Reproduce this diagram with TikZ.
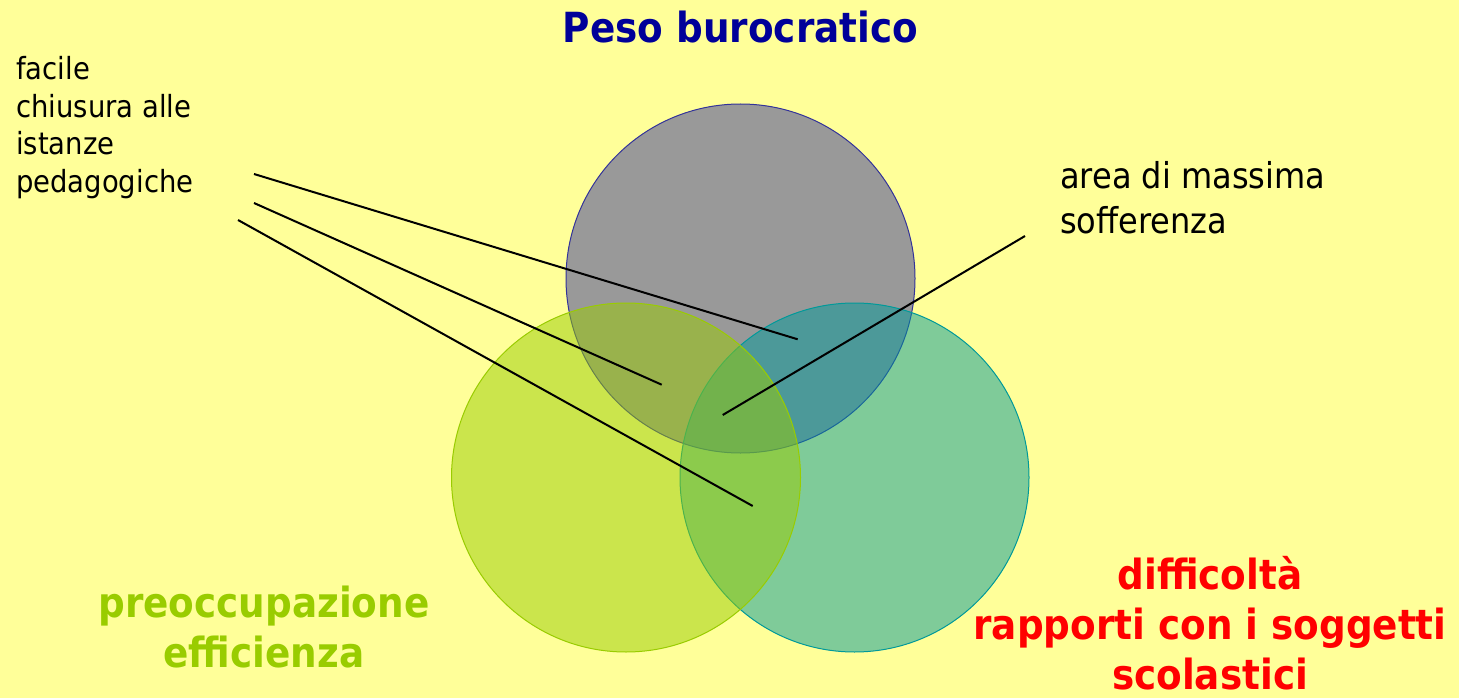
\documentclass[tikz,border=0pt]{standalone}
\usepackage{fontspec}
\setmainfont[FakeStretch=0.9]{DejaVu Sans}
\definecolor{bgyellow}{RGB}{255,255,153}
\definecolor{burgray}{RGB}{153,153,153}
\definecolor{burnavy}{RGB}{51,51,153}
\definecolor{titlenavy}{RGB}{0,0,153}
\definecolor{effgreen}{RGB}{153,204,0}
\definecolor{difteal}{RGB}{0,153,153}
\definecolor{difred}{RGB}{255,0,0}
\tikzset{
  set/.style={circle,minimum size=349,inner sep=0,line width=1},
  note/.style={inner sep=0,align=left,font=\fontsize{30.5}{38}\selectfont},
  head/.style={inner sep=0,align=center,font=\bfseries\fontsize{41.5}{50}\selectfont},
  pointer/.style={line width=2,black}
}
\begin{document}
\begin{tikzpicture}[x=1pt,y=-1pt]
  \useasboundingbox[fill=bgyellow] (0,0) rectangle (1459,698);
  % the three sets
  \node[set,draw=burnavy,fill=burgray] (bur) at (740.5,278.5) {};
  \node[set,draw=difteal,fill=difteal,fill opacity=0.5] (dif) at (854.5,477.5) {};
  \node[set,draw=effgreen,fill=effgreen,fill opacity=0.5] (eff) at (626,477.5) {};
  % titles (base = last line)
  \node[head,text=titlenavy,anchor=base] (burtitle) at (740.5,43) {Peso burocratico};
  \node[head,text=effgreen,anchor=base] (efftitle) at (264,667) {preoccupazione\\efficienza};
  \node[head,text=difred,anchor=base] (diftitle) at (1210,689) {difficoltà\\rapporti con i soggetti\\scolastici};
  % notes
  \node[note,anchor=base west] (chiusura) at (16,193) {facile\\chiusura alle\\istanze\\pedagogiche};
  \node[note,anchor=base west,font=\fontsize{35.6}{44}\selectfont] (sofferenza) at (1060,233) {area di massima\\sofferenza};
  \coordinate(c1)at(254,174);\coordinate(c2)at(254,203);\coordinate(c3)at(238,220);\coordinate(c4)at(1025,236);
  \coordinate(burdif)at(797.7,339.3);\coordinate(bureff)at(661.7,384.7);\coordinate(effdif)at(752.7,506);\coordinate(all)at(722.7,415);
  \draw[pointer] (c1)--(burdif) (c2)--(bureff) (c3)--(effdif) (c4)--(all);
\end{tikzpicture}
\end{document}
